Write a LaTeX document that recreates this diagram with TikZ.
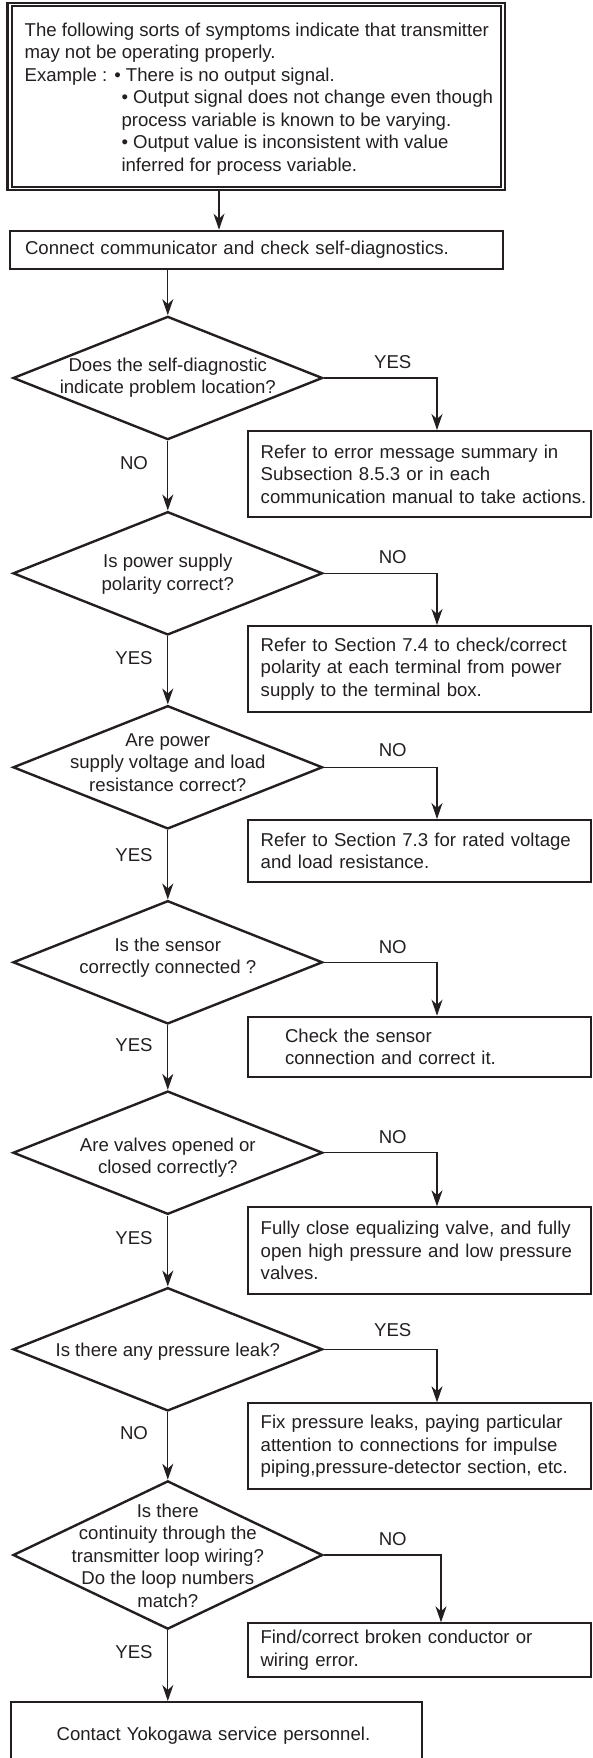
\documentclass[tikz,border=0pt]{standalone}
\usepackage{fontspec}
\setmainfont{Liberation Sans}
\usetikzlibrary{shapes.geometric,arrows.meta}
\definecolor{ink}{HTML}{231F20}
\begin{document}
\begin{tikzpicture}[x=1pt,y=-1pt,
  every node/.style={font=\fontsize{18.6}{22.5}\selectfont, text=ink},
  box/.style={draw=ink, line width=2pt, rectangle, inner ysep=0pt, align=left},
  dia/.style={draw=ink, line width=2.4pt, diamond, inner sep=0pt, minimum width=309.6pt, minimum height=123.3pt},
  dtext/.style={inner sep=0pt, align=center},
  lbl/.style={inner sep=0pt},
  arr/.style={draw=ink, line width=1.2pt, -{Stealth[length=16pt,width=11pt,inset=5pt]}}]
\useasboundingbox (0,0) rectangle (592,1758);
\clip (0,0) rectangle (592,1758);

\coordinate (colA) at (219,0);
\coordinate (colB) at (437,0);
\coordinate (colC) at (441,0);

% top box
\node[draw=ink, line width=2.2pt, rectangle, minimum width=497.5pt, minimum height=186.7pt, inner sep=0pt] (top) at (256.25,96.65) {};
\draw[ink, line width=1.6pt] ([shift={(5.3,4)}]top.north west) rectangle ([shift={(-5,-4)}]top.south east);
\node[anchor=north west, inner sep=0pt, align=left] (toptext) at (24.5,22.5)
  {The following sorts of symptoms indicate that transmitter\\
   may not be operating properly.\\
   Example : • There is no output signal.\\
   \hspace*{96.8pt}• Output signal does not change even though\\
   \hspace*{96.8pt}process variable is known to be varying.\\
   \hspace*{96.8pt}• Output value is inconsistent with value\\
   \hspace*{96.8pt}inferred for process variable.};

\node[box, minimum width=493pt, minimum height=38.5pt, inner xsep=15pt, text width=463pt] (conn) at (256.5,249.95)
  {Connect communicator and check self-diagnostics.};

% diamonds
\node[dia] (d1) at (167.8,378) {};
\node[dia] (d2) at (167.8,573.3) {};
\node[dia] (d3) at (167.8,767.3) {};
\node[dia] (d4) at (167.8,962.3) {};
\node[dia] (d5) at (167.8,1152.7) {};
\node[dia] (d6) at (167.8,1349.3) {};
\node[dia, minimum height=148.3pt] (d7) at (167.8,1555) {};

\node[dtext] (t1) at (167.8,377.5) {Does the self-diagnostic\\indicate problem location?};
\node[dtext] (t2) at (167.8,574) {Is power supply\\polarity correct?};
\node[dtext] (t3) at (167.8,762.2) {Are power\\supply voltage and load\\resistance correct?};
\node[dtext] (t4) at (167.8,957.5) {Is the sensor\\correctly connected ?};
\node[dtext] (t5) at (167.8,1157.8) {Are valves opened or\\closed correctly?};
\node[dtext] (t6) at (167.8,1351.7) {Is there any pressure leak?};
\node[dtext] (t7) at (167.8,1555.8) {Is there\\continuity through the\\transmitter loop wiring?\\Do the loop numbers\\match?};

% action boxes
\node[box, minimum width=342.6pt, minimum height=85.7pt, inner xsep=12.3pt, text width=318pt] (b1) at (419.7,473.85)
  {\mbox{Refer to error message summary in}\\\mbox{Subsection 8.5.3 or in each}\\\mbox{communication manual to take actions.}};
\node[box, minimum width=342.6pt, minimum height=85.7pt, inner xsep=12.3pt, text width=318pt] (b2) at (419.7,668.85)
  {\mbox{Refer to Section 7.4 to check/correct}\\\mbox{polarity at each terminal from power}\\\mbox{supply to the terminal box.}};
\node[box, minimum width=342.6pt, minimum height=61.7pt, inner xsep=12.3pt, text width=318pt] (b3) at (419.7,850.85)
  {\mbox{Refer to Section 7.3 for rated voltage}\\\mbox{and load resistance.}};
\node[box, minimum width=342.6pt, minimum height=60.6pt, inner xsep=36.6pt, text width=269.4pt] (b4) at (419.7,1047)
  {\mbox{Check the sensor}\\\mbox{connection and correct it.}};
\node[box, minimum width=342.6pt, minimum height=86.7pt, inner xsep=12.3pt, text width=318pt] (b5) at (419.7,1250.65)
  {\mbox{Fully close equalizing valve, and fully}\\\mbox{open high pressure and low pressure}\\\mbox{valves.}};
\node[box, minimum width=342.6pt, minimum height=86pt, inner xsep=12.3pt, text width=318pt] (b6) at (419.7,1446.3)
  {\mbox{Fix pressure leaks, paying particular}\\\mbox{attention to connections for impulse}\\\mbox{piping,pressure-detector section, etc.}};
\node[box, minimum width=343.5pt, minimum height=54pt, inner xsep=13pt, text width=317.5pt] (b7) at (419.25,1650.3)
  {\mbox{Find/correct broken conductor or}\\\mbox{wiring error.}};
\node[box, minimum width=411.4pt, minimum height=68pt, inner xsep=46pt, text width=319.4pt] (fin) at (216.3,1736)
  {\mbox{Contact Yokogawa service personnel.}};

% labels
\node[lbl] (l1) at (392.7,361.7) {YES};
\node[lbl] (l2) at (134,463.3) {NO};
\node[lbl] (l3) at (392.7,556.7) {NO};
\node[lbl] (l4) at (134,658.3) {YES};
\node[lbl] (l5) at (392.7,750) {NO};
\node[lbl] (l6) at (134,855) {YES};
\node[lbl] (l7) at (392.7,946.7) {NO};
\node[lbl] (l8) at (134,1045) {YES};
\node[lbl] (l9) at (392.7,1136.7) {NO};
\node[lbl] (l10) at (134,1238.3) {YES};
\node[lbl] (l11) at (392.7,1330) {YES};
\node[lbl] (l12) at (134,1432.7) {NO};
\node[lbl] (l13) at (392.7,1539.3) {NO};
\node[lbl] (l14) at (134,1651.7) {YES};

% connectors
\draw[arr] (top.south -| colA) -- (conn.north -| colA);
\draw[arr] (conn.south -| d1.north) -- (d1.north);
\draw[arr] (d1.east) -| (b1.north -| colB);
\draw[arr] (d1.south) -- (d2.north);
\draw[arr] (d2.east) -| (b2.north -| colB);
\draw[arr] (d2.south) -- (d3.north);
\draw[arr] (d3.east) -| (b3.north -| colB);
\draw[arr] (d3.south) -- (d4.north);
\draw[arr] (d4.east) -| (b4.north -| colB);
\draw[arr] (d4.south) -- (d5.north);
\draw[arr] (d5.east) -| (b5.north -| colB);
\draw[arr] (d5.south) -- (d6.north);
\draw[arr] (d6.east) -| (b6.north -| colB);
\draw[arr] (d6.south) -- (d7.north);
\draw[arr] (d7.east) -| (b7.north -| colC);
\draw[arr] (d7.south) -- (d7.south |- fin.north);
\end{tikzpicture}
\end{document}
